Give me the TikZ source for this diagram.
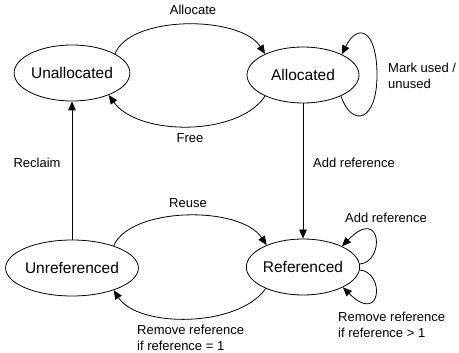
\documentclass[tikz,border=0pt]{standalone}
\usepackage{fontspec}
\setmainfont{Liberation Sans}
\usetikzlibrary{arrows.meta,shapes.geometric}
\begin{document}
\begin{tikzpicture}[x=1pt,y=-1pt,
  state/.style={ellipse,draw,line width=0.8pt,minimum width=112pt,minimum height=56pt,inner sep=0pt,font=\fontsize{15.5}{18}\selectfont},
  lbl/.style={font=\fontsize{13}{15.5}\selectfont,inner sep=0pt},
  arr/.style={line width=0.8pt,-{Triangle[length=9pt,width=7.5pt]}}]
\useasboundingbox (0,0) rectangle (459,353);
\node[state] (ua) at (72,73) {Unallocated};
\node[state] (al) at (303,75) {Allocated};
\node[state] (ur) at (72,268) {Unreferenced};
\node[state] (rf) at (303,267) {Referenced};
% Allocate / Free
\draw[arr] (ua.24) .. controls (130,15) and (240,15) .. (al.151);
\draw[arr] (al.209) .. controls (238,137) and (138,136) .. (ua.-31);
% Mark used / unused loop
\draw[arr] (al.-29) .. controls (352,128) and (377,122) .. (377,75) .. controls (377,30) and (358,22) .. (al.28);
% verticals
\draw[arr] (al.south) -- (rf.north);
\draw[arr] (ur.north) -- (ua.south);
% Reuse / Remove
\draw[arr] (ur.28) .. controls (130,207) and (240,205) .. (rf.149);
\draw[arr] (rf.210) .. controls (238,328) and (138,328) .. (ur.-28);
% Referenced loops
\draw[arr] (rf.3) .. controls (385,262) and (382,205) .. (rf.28);
\draw[arr] (rf.-3) .. controls (385,272) and (382,326) .. (rf.-27);
% labels
\node[lbl] (lallocate) at (193,10) {Allocate};
\node[lbl] (lfree) at (190,138) {Free};
\node[lbl,anchor=west,align=left] (lmark) at (388,76) {Mark used /\\unused};
\node[lbl,anchor=west] (laddref) at (313,163) {Add reference};
\node[lbl] (lreclaim) at (37,163) {Reclaim};
\node[lbl] (lreuse) at (188,203) {Reuse};
\node[lbl,anchor=west,align=left] (lrem1) at (137,338) {Remove reference\\if reference = 1};
\node[lbl] (laddref2) at (386,218) {Add reference};
\node[lbl,anchor=west,align=left] (lrem2) at (338,325) {Remove reference\\if reference > 1};
\end{tikzpicture}
\end{document}
